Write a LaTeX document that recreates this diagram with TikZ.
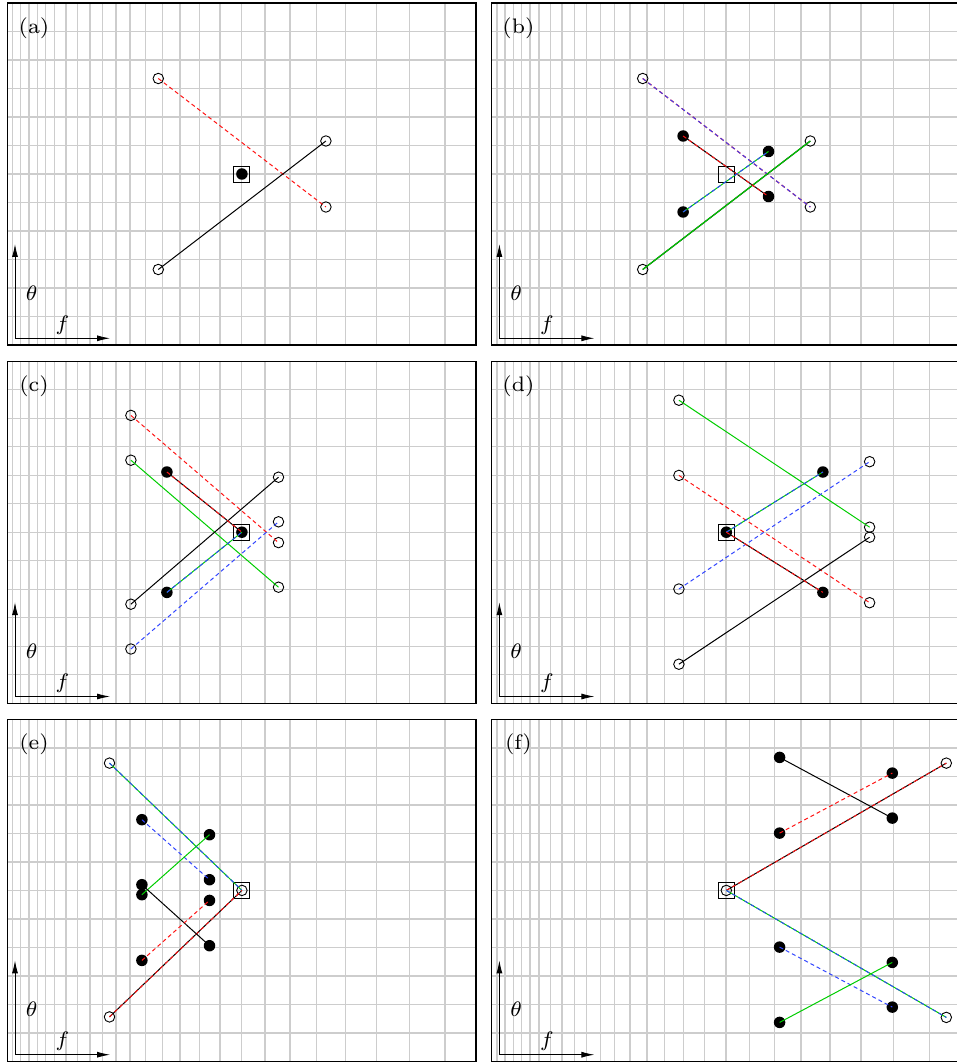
\documentclass[tikz,border=0pt]{standalone}
\usetikzlibrary{arrows.meta}
\definecolor{gridc}{RGB}{205,205,205}
\definecolor{myred}{RGB}{255,20,20}
\definecolor{myblue}{RGB}{50,70,255}
\definecolor{mygreen}{RGB}{0,205,0}
\tikzset{
  gridline/.style={draw=gridc,line width=1.3pt},
  frameline/.style={draw=black,line width=1.3pt},
  axisline/.style={draw=black,line width=0.9pt,{Latex[length=13pt,width=6pt]}-{Latex[length=13pt,width=6pt]}},
  lab/.style={inner sep=0pt,scale=3,font=\fontsize{7}{8}\selectfont},
  opn/.style={circle,draw=black,line width=0.9pt,inner sep=0pt,minimum size=10.5pt},
  dotm/.style={circle,fill=black,inner sep=0pt,minimum size=11.5pt},
  sqm/.style={rectangle,draw=black,line width=0.9pt,fill=none,inner sep=0pt,minimum size=16pt},
  lblack/.style={draw=black,line width=1pt},
  lgreen/.style={draw=mygreen,line width=1pt},
  lreddash/.style={draw=myred,line width=1pt,dash pattern=on 4pt off 3pt},
  lbluedash/.style={draw=myblue,line width=1pt,dash pattern=on 4pt off 3pt},
}
\newcommand{\mypanel}[2]{%
  \foreach \gx in {5.4,13.4,21.7,30,38.4,47.4,58.8,70.4,82.7,95,108.7,122.7,138.4,155.4,172.7,192,212.7,234.4,257.7,282.7,309.4,338.4,369.4,402,437.7}
    \draw[gridline] (\gx,0) -- (\gx,342);
  \foreach \k in {1,...,11}
    \draw[gridline] (0,28.5*\k) -- (468.7,28.5*\k);
  \draw[frameline] (0,0) rectangle (468.7,342);
  \node[lab] (lab#1) at (26.7,25) {(#2)};
  \coordinate (ty#1) at (7.7,241);
  \coordinate (o#1) at (7.7,335.3);
  \coordinate (tx#1) at (102.7,335.3);
  \draw[axisline] (ty#1) -- (o#1) -- (tx#1);
  \node[lab] (th#1) at (24.4,290) {$\theta$};
  \node[lab] (f#1) at (55.2,322) {$f$};
}
\begin{document}
\begin{tikzpicture}[x=1pt,y=-1pt]
\useasboundingbox (0,0) rectangle (956,1064);

% ---------- (a)
\begin{scope}[shift={(7.3,3)}]
\mypanel{A}{a}
\begin{scope}[shift={(234.6,171)}]
  \node[opn] (a1) at (-83.6,-95.5) {};
  \node[opn] (a2) at (84,33) {};
  \node[opn] (a3) at (-83.6,95.5) {};
  \node[opn] (a4) at (84,-33) {};
  \node[sqm] (aS) at (0,0) {};
  \draw[lreddash] (a1.center) -- (a2.center);
  \draw[lblack] (a3.center) -- (a4.center);
  \node[dotm] (aD) at (0,0) {};
\end{scope}
\end{scope}

% ---------- (b)
\begin{scope}[shift={(491.7,3)}]
\mypanel{B}{b}
\begin{scope}[shift={(234.6,171)}]
  \node[opn] (b1) at (-83.6,-95.5) {};
  \node[opn] (b2) at (84,33) {};
  \node[opn] (b3) at (-83.6,95.5) {};
  \node[opn] (b4) at (84,-33) {};
  \node[sqm] (bS) at (0,0) {};
  \draw[lreddash,line width=1.2pt] (b1.center) -- (b2.center);
  \draw[lbluedash,line width=0.9pt] (b1.center) -- (b2.center);
  \draw[lblack,line width=1.2pt] (b3.center) -- (b4.center);
  \draw[lgreen,line width=1.1pt] (b3.center) -- (b4.center);
  \node[dotm] (b5) at (-43.2,-38) {};
  \node[dotm] (b6) at (42.2,22.5) {};
  \node[dotm] (b7) at (-43.2,38) {};
  \node[dotm] (b8) at (42.2,-22.5) {};
  \draw[lblack] (b5.center) -- (b6.center);
  \draw[lreddash] (b5.center) -- (b6.center);
  \draw[lgreen] (b7.center) -- (b8.center);
  \draw[lbluedash] (b7.center) -- (b8.center);
\end{scope}
\end{scope}

% ---------- (c)
\begin{scope}[shift={(7.3,361.2)}]
\mypanel{C}{c}
\begin{scope}[shift={(234.6,171)}]
  \node[opn] (c1) at (-111,-116.8) {};
  \node[opn] (c2) at (36.6,10.4) {};
  \node[opn] (c3) at (-111,-72) {};
  \node[opn] (c4) at (36.6,55) {};
  \node[opn] (c5) at (-111,72) {};
  \node[opn] (c6) at (36.6,-55) {};
  \node[opn] (c7) at (-111,116.8) {};
  \node[opn] (c8) at (36.6,-10.4) {};
  \node[sqm] (cS) at (0,0) {};
  \draw[lreddash] (c1.center) -- (c2.center);
  \draw[lgreen] (c3.center) -- (c4.center);
  \draw[lblack] (c5.center) -- (c6.center);
  \draw[lbluedash] (c7.center) -- (c8.center);
  \node[dotm] (c9) at (-75,-60.2) {};
  \node[dotm] (c10) at (-75,60.2) {};
  \node[dotm] (cD) at (0,0) {};
  \draw[lblack] (c9.center) -- (cD.center);
  \draw[lreddash] (c9.center) -- (cD.center);
  \draw[lgreen] (c10.center) -- (cD.center);
  \draw[lbluedash] (c10.center) -- (cD.center);
\end{scope}
\end{scope}

% ---------- (d)
\begin{scope}[shift={(491.7,361.2)}]
\mypanel{D}{d}
\begin{scope}[shift={(234.6,171)}]
  \node[opn] (d1) at (-47.4,-132) {};
  \node[opn] (d2) at (143.3,-5) {};
  \node[opn] (d3) at (-47.4,-56.8) {};
  \node[opn] (d4) at (143.3,70.5) {};
  \node[opn] (d5) at (-47.4,56.8) {};
  \node[opn] (d6) at (143.3,-70.5) {};
  \node[opn] (d7) at (-47.4,132) {};
  \node[opn] (d8) at (143.3,5) {};
  \node[sqm] (dS) at (0,0) {};
  \draw[lgreen] (d1.center) -- (d2.center);
  \draw[lreddash] (d3.center) -- (d4.center);
  \draw[lbluedash] (d5.center) -- (d6.center);
  \draw[lblack] (d7.center) -- (d8.center);
  \node[dotm] (dD) at (0,0) {};
  \node[dotm] (d9) at (96.6,-60.2) {};
  \node[dotm] (d10) at (96.6,60.2) {};
  \draw[lgreen] (dD.center) -- (d9.center);
  \draw[lbluedash] (dD.center) -- (d9.center);
  \draw[lblack] (dD.center) -- (d10.center);
  \draw[lreddash] (dD.center) -- (d10.center);
\end{scope}
\end{scope}

% ---------- (e)
\begin{scope}[shift={(7.3,719.4)}]
\mypanel{E}{e}
\begin{scope}[shift={(234.6,171)}]
  \node[sqm] (eS) at (0,0) {};
  \node[opn] (eO) at (0,0) {};
  \node[opn] (e1) at (-132.4,-127.3) {};
  \node[opn] (e2) at (-132.4,126.5) {};
  \draw[lgreen] (e1.center) -- (eO.center);
  \draw[lbluedash] (e1.center) -- (eO.center);
  \draw[lblack] (e2.center) -- (eO.center);
  \draw[lreddash] (e2.center) -- (eO.center);
  \node[dotm] (e3) at (-100,-70.7) {};
  \node[dotm] (e4) at (-32.4,-10.7) {};
  \node[dotm] (e5) at (-100,4.3) {};
  \node[dotm] (e6) at (-32.4,-55.7) {};
  \node[dotm] (e7) at (-100,-5.7) {};
  \node[dotm] (e8) at (-32.4,55.3) {};
  \node[dotm] (e9) at (-100,70) {};
  \node[dotm] (e10) at (-32.4,10) {};
  \draw[lbluedash] (e3.center) -- (e4.center);
  \draw[lgreen] (e5.center) -- (e6.center);
  \draw[lblack] (e7.center) -- (e8.center);
  \draw[lreddash] (e9.center) -- (e10.center);
\end{scope}
\end{scope}

% ---------- (f)
\begin{scope}[shift={(491.7,719.4)}]
\mypanel{F}{f}
\begin{scope}[shift={(234.6,171)}]
  \node[sqm] (fS) at (0,0) {};
  \node[opn] (fO) at (0,0) {};
  \node[opn] (f1) at (220,-127.3) {};
  \node[opn] (f2) at (220,127) {};
  \draw[lblack] (fO.center) -- (f1.center);
  \draw[lreddash] (fO.center) -- (f1.center);
  \draw[lgreen] (fO.center) -- (f2.center);
  \draw[lbluedash] (fO.center) -- (f2.center);
  \node[dotm] (f3) at (53.3,-133) {};
  \node[dotm] (f4) at (166,-72.3) {};
  \node[dotm] (f5) at (53.3,-57.3) {};
  \node[dotm] (f6) at (166,-117.3) {};
  \node[dotm] (f7) at (53.3,56.7) {};
  \node[dotm] (f8) at (166,116.7) {};
  \node[dotm] (f9) at (53.3,132) {};
  \node[dotm] (f10) at (166,72) {};
  \draw[lblack] (f3.center) -- (f4.center);
  \draw[lreddash] (f5.center) -- (f6.center);
  \draw[lbluedash] (f7.center) -- (f8.center);
  \draw[lgreen] (f9.center) -- (f10.center);
\end{scope}
\end{scope}
\end{tikzpicture}
\end{document}
